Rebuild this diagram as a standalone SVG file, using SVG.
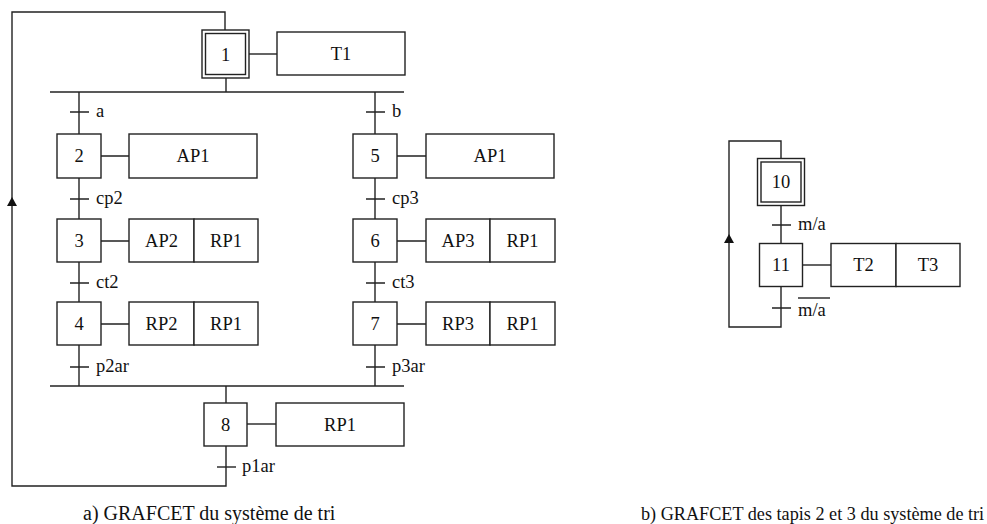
<svg xmlns="http://www.w3.org/2000/svg" width="987" height="524" viewBox="0 0 987 524">
<defs>
<style>
.b{fill:#fff;stroke:#222;stroke-width:1.4}
.l{fill:none;stroke:#222;stroke-width:1.4}
text{font-family:'Liberation Serif','DejaVu Serif',serif;fill:#111}
.t{font-size:18.5px}
.c{text-anchor:middle}
.capa{font-size:20px}
.capb{font-size:18.2px}
</style>
</defs>
<rect width="987" height="524" fill="#fff"/>

<g id="connectors">
<path class="l" d="M226,446 V486 H12 V12 H225 V30"/>
<path d="M7,206 L12,197 L17,206 Z" fill="#111"/>
<path class="l" d="M226,78 V92"/>
<path class="l" d="M50,92 H404"/>
<path class="l" d="M79,92 V386"/>
<path class="l" d="M375,92 V386"/>
<path class="l" d="M50,386 H404"/>
<path class="l" d="M226,386 V403"/>
<path class="l" d="M70,112 H89 M70,199 H89 M70,283 H89 M70,367 H89"/>
<path class="l" d="M366,112 H385 M366,199 H385 M366,283 H385 M366,367 H385"/>
<path class="l" d="M217,467 H236"/>
<path class="l" d="M249,54 H277"/>
<path class="l" d="M101,156 H129 M101,241 H129 M101,324 H129"/>
<path class="l" d="M397,156 H426 M397,241 H426 M397,324 H426"/>
<path class="l" d="M247,424 H276"/>
<path class="l" d="M781,206 V243 M781,287 V327 H729 V141 H781 V158"/>
<path d="M724,243 L729,234 L734,243 Z" fill="#111"/>
<path class="l" d="M772,225 H791 M772,308 H791"/>
<path class="l" d="M803,265 H831"/>
</g>

<g id="step1">
<rect class="b" x="202" y="30" width="47" height="48"/>
<rect class="b" x="205.5" y="33.5" width="40" height="41"/>
<text class="t c" x="225.5" y="60.5">1</text>
</g>
<g id="action-T1">
<rect class="b" x="277" y="32" width="128" height="43"/>
<text class="t c" x="341" y="60">T1</text>
</g>

<g id="trans-a"><text class="t" x="96" y="117">a</text></g>
<g id="trans-b"><text class="t" x="392" y="117">b</text></g>

<g id="step2">
<rect class="b" x="57" y="134" width="44" height="44"/>
<text class="t c" x="79" y="162">2</text>
</g>
<g id="action2">
<rect class="b" x="129" y="134" width="128" height="44"/>
<text class="t c" x="193" y="162">AP1</text>
</g>
<g id="trans-cp2"><text class="t" x="96" y="204">cp2</text></g>

<g id="step3">
<rect class="b" x="57" y="219" width="44" height="43"/>
<text class="t c" x="79" y="247">3</text>
</g>
<g id="action3">
<rect class="b" x="129" y="219" width="65" height="43"/>
<rect class="b" x="194" y="219" width="64" height="43"/>
<text class="t c" x="161.5" y="247">AP2</text>
<text class="t c" x="226" y="247">RP1</text>
</g>
<g id="trans-ct2"><text class="t" x="96" y="288">ct2</text></g>

<g id="step4">
<rect class="b" x="57" y="302" width="44" height="43"/>
<text class="t c" x="79" y="330">4</text>
</g>
<g id="action4">
<rect class="b" x="129" y="302" width="65" height="43"/>
<rect class="b" x="194" y="302" width="64" height="43"/>
<text class="t c" x="161.5" y="330">RP2</text>
<text class="t c" x="226" y="330">RP1</text>
</g>
<g id="trans-p2ar"><text class="t" x="96" y="372">p2ar</text></g>

<g id="step5">
<rect class="b" x="353" y="134" width="44" height="44"/>
<text class="t c" x="375" y="162">5</text>
</g>
<g id="action5">
<rect class="b" x="426" y="134" width="128" height="44"/>
<text class="t c" x="490" y="162">AP1</text>
</g>
<g id="trans-cp3"><text class="t" x="392" y="204">cp3</text></g>

<g id="step6">
<rect class="b" x="353" y="219" width="44" height="43"/>
<text class="t c" x="375" y="247">6</text>
</g>
<g id="action6">
<rect class="b" x="426" y="219" width="64" height="43"/>
<rect class="b" x="490" y="219" width="65" height="43"/>
<text class="t c" x="458" y="247">AP3</text>
<text class="t c" x="522.5" y="247">RP1</text>
</g>
<g id="trans-ct3"><text class="t" x="392" y="288">ct3</text></g>

<g id="step7">
<rect class="b" x="353" y="302" width="44" height="43"/>
<text class="t c" x="375" y="330">7</text>
</g>
<g id="action7">
<rect class="b" x="426" y="302" width="64" height="43"/>
<rect class="b" x="490" y="302" width="65" height="43"/>
<text class="t c" x="458" y="330">RP3</text>
<text class="t c" x="522.5" y="330">RP1</text>
</g>
<g id="trans-p3ar"><text class="t" x="392" y="372">p3ar</text></g>

<g id="step8">
<rect class="b" x="204" y="403" width="43" height="43"/>
<text class="t c" x="225.5" y="431">8</text>
</g>
<g id="action8">
<rect class="b" x="276" y="403" width="128" height="43"/>
<text class="t c" x="340" y="431">RP1</text>
</g>
<g id="trans-p1ar"><text class="t" x="242" y="472">p1ar</text></g>

<g id="step10">
<rect class="b" x="757.5" y="158.5" width="47" height="47"/>
<rect class="b" x="761" y="162" width="40" height="40"/>
<text class="t c" x="781" y="188">10</text>
</g>
<g id="trans-ma"><text class="t" x="798" y="230">m/a</text></g>
<g id="step11">
<rect class="b" x="759.5" y="243.5" width="43" height="43"/>
<text class="t c" x="781" y="271">11</text>
</g>
<g id="action11">
<rect class="b" x="831" y="243.5" width="65" height="43"/>
<rect class="b" x="896" y="243.5" width="64" height="43"/>
<text class="t c" x="863.5" y="271">T2</text>
<text class="t c" x="928" y="271">T3</text>
</g>
<g id="trans-nma">
<path class="l" d="M798,298 H830"/>
<text class="t" x="798" y="316">m/a</text>
</g>

<g id="captions">
<text class="capa" x="83" y="520">a) GRAFCET du système de tri</text>
<text class="capb" x="641" y="520">b) GRAFCET des tapis 2 et 3 du système de tri</text>
</g>
</svg>
